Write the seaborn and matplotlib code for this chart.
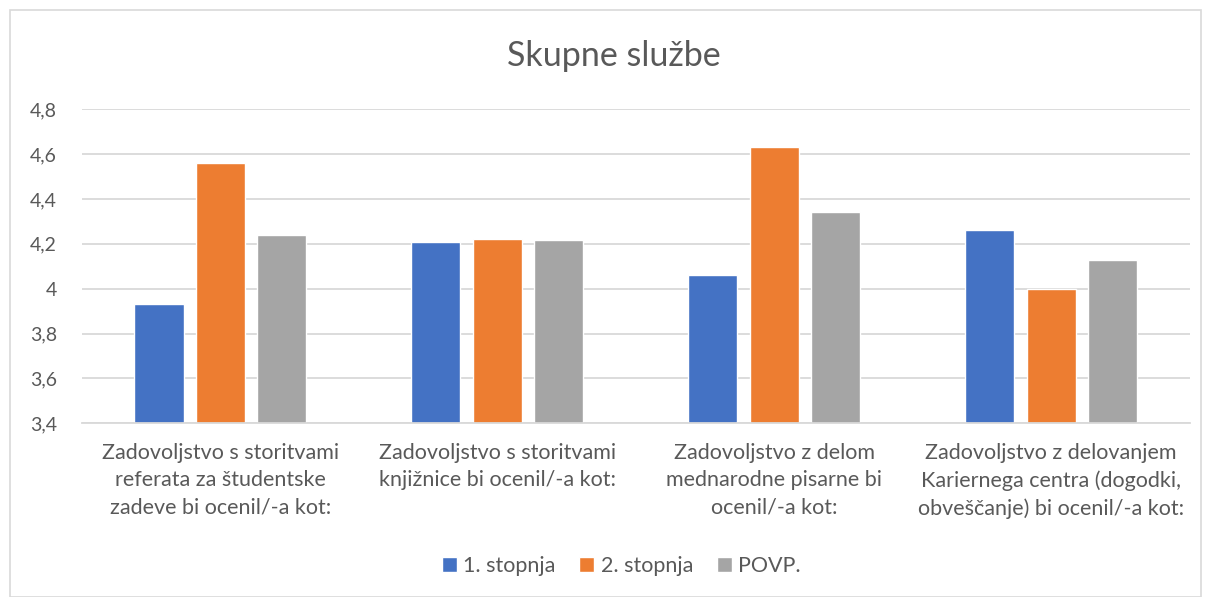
import matplotlib
matplotlib.use("Agg")
import matplotlib.pyplot as plt
import seaborn as sns
import pandas as pd
from matplotlib.patches import Rectangle

categories = [
    "Zadovoljstvo s storitvami\nreferata za študentske\nzadeve bi ocenil/-a kot:",
    "Zadovoljstvo s storitvami\nknjižnice bi ocenil/-a kot:",
    "Zadovoljstvo z delom\nmednarodne pisarne bi\nocenil/-a kot:",
    "Zadovoljstvo z delovanjem\nKariernega centra (dogodki,\nobveščanje) bi ocenil/-a kot:",
]
series_names = ["1. stopnja", "2. stopnja", "POVP."]
stopnja1 = [3.93, 4.21, 4.06, 4.26]
stopnja2 = [4.56, 4.22, 4.63, 4.00]
povp = [4.24, 4.215, 4.343, 4.13]
yticks = [3.4, 3.6, 3.8, 4.0, 4.2, 4.4, 4.6, 4.8]
ytick_labels = ["3,4", "3,6", "3,8", "4", "4,2", "4,4", "4,6", "4,8"]
title = "Skupne službe"
colors = ["#4472C4", "#ED7D31", "#A5A5A5"]

rows = []
for name, vals in zip(series_names, [stopnja1, stopnja2, povp]):
    for c, v in zip(categories, vals):
        rows.append({"cat": c, "series": name, "value": v})
df = pd.DataFrame(rows)

sns.set_theme(style="white")
plt.rcParams["font.family"] = ["Lato", "DejaVu Sans"]
text_color = "#595959"

fig = plt.figure(figsize=(12.09, 5.97), dpi=100)
ax = fig.add_axes([0.0678, 0.291, 0.9162, 0.526])

sns.barplot(data=df, x="cat", y="value", hue="series", order=categories,
            hue_order=series_names, palette=colors, width=0.666, gap=0.2,
            saturation=1, ax=ax, legend=True)

ax.set_ylim(3.4, 4.8)
ax.set_xlim(-0.5, 3.5)
ax.set_yticks(yticks)
ax.set_yticklabels(ytick_labels, fontsize=14, color=text_color)
ax.tick_params(axis="y", length=0, pad=18)
ax.tick_params(axis="x", length=0, pad=14, labelsize=15.5, labelcolor=text_color)
for lbl in ax.get_xticklabels():
    lbl.set_linespacing(1.45)
ax.set_xlabel("")
ax.set_ylabel("")
ax.yaxis.grid(True, color="#D9D9D9", linewidth=1.3)
ax.set_axisbelow(True)
for s in ["top", "right", "left"]:
    ax.spines[s].set_visible(False)
ax.spines["bottom"].set_color("#D9D9D9")
ax.spines["bottom"].set_linewidth(1.3)

fig.text(0.508, 0.906, title, ha="center", va="center", fontsize=24.5, color=text_color)

handles, labels = ax.get_legend_handles_labels()
ax.get_legend().remove()
fig.legend(handles, labels, loc="center", bbox_to_anchor=(0.514, 0.052), ncol=3,
           frameon=False, fontsize=15.5, labelcolor=text_color, handlelength=0.7,
           handleheight=0.7, handletextpad=0.3, columnspacing=1.1)

fig.patches.append(Rectangle((0.008, 0.0), 0.985, 0.983, transform=fig.transFigure,
                             fill=False, edgecolor="#D9D9D9", linewidth=1.2))

fig.savefig("out.png", dpi=100, facecolor="white")
